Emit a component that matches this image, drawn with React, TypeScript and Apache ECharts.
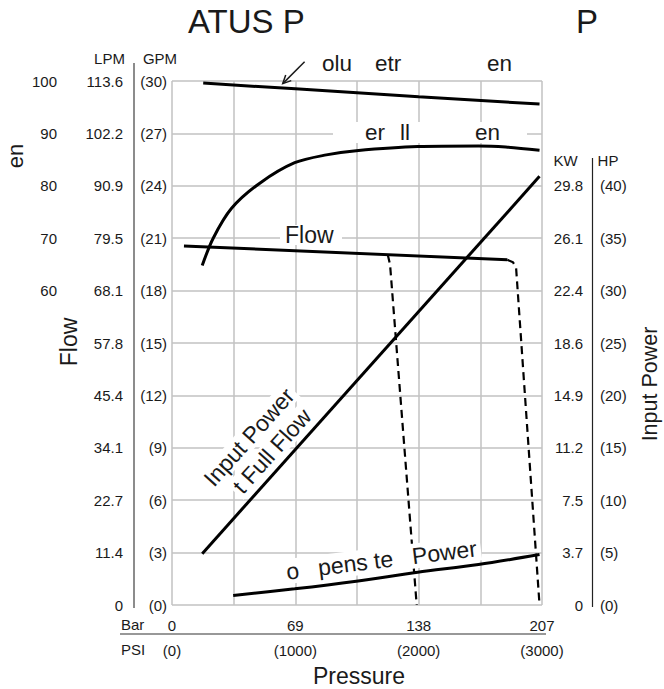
import React, { useEffect, useRef } from 'react';
import * as echarts from 'echarts';

// ---------- tick labels ----------
const barTicks = ['0', '69', '138', '207'];
const psiTicks = ['(0)', '(1000)', '(2000)', '(3000)'];
const gpmTicks = ['(0)', '(3)', '(6)', '(9)', '(12)', '(15)', '(18)', '(21)', '(24)', '(27)', '(30)'];
const lpmTicks = ['0', '11.4', '22.7', '34.1', '45.4', '57.8', '68.1', '79.5', '90.9', '102.2', '113.6'];
const effTicks = ['60', '70', '80', '90', '100'];
const hpTicks = ['(0)', '(5)', '(10)', '(15)', '(20)', '(25)', '(30)', '(35)', '(40)'];
const kwTicks = ['0', '3.7', '7.5', '11.2', '14.9', '18.6', '22.4', '26.1', '29.8'];

// ---------- series (x = PSI) ----------
const volEffPsi = [253, 1000, 2000, 2980];
const volEffPct = [99.6, 98.5, 97.0, 95.6];

const overallEffPsi = [245, 334, 483, 712, 995, 1251, 1494, 1992, 2485, 2706, 2980];
const overallEffPct = [64.8, 70.0, 75.7, 80.5, 84.4, 85.9, 86.7, 87.5, 87.6, 87.4, 86.8];

const flowPsi = [97, 2719];
const flowGpm = [20.56, 19.76];

const comp1Psi = [1749, 1768, 1984];
const comp1Gpm = [20.06, 19.5, 0];

const comp2Psi = [2719, 2765, 2790, 2980];
const comp2Gpm = [19.76, 19.62, 19.3, 0];

const fullPowerPsi = [245, 2980];
const fullPowerHp = [4.9, 40.9];

const compPowerPsi = [496, 995, 1494, 1992, 2485, 2980];
const compPowerHp = [0.91, 1.54, 2.27, 3.13, 3.86, 4.81];

// arrow annotation (tail, head) in PSI / GPM
const arrowPsi = [1075, 898];
const arrowGpm = [31.1, 29.85];

const W = 664;
const H = 689;
const G = { left: 172, top: 81, width: 370, height: 524 };
const FONT = '"Liberation Sans", Arial, Helvetica, sans-serif';
const INK = '#1a1a1a';
const GRID = '#c2c2c2';

const gx = (psi: number) => G.left + (psi / 3000) * G.width;
const gy = (gpm: number) => G.top + G.height - (gpm / 30) * G.height;
const zip = (a: number[], b: number[]) => a.map((v, i) => [v, b[i]]);

function txt(text: string, x: number, y: number, size: number, o: any = {}) {
  const align = o.align || 'left';
  const style: any = {
    text,
    fill: INK,
    font: `${size}px ${FONT}`,
    align,
    verticalAlign: 'middle',
    textAlign: align,
    textVerticalAlign: 'middle',
  };
  if (o.bg) {
    style.backgroundColor = o.bg;
    style.padding = o.pad || [0, 3];
  }
  return { type: 'text', x, y, rotation: o.rot || 0, z: o.z ?? 5, silent: true, style };
}

function buildGraphic() {
  const els: any[] = [];
  // title
  els.push(txt('ATUS P', 188, 21, 33));
  els.push(txt('P', 576, 21, 33));
  // left headers / axis names
  els.push(txt('LPM', 109.5, 58, 15, { align: 'center' }));
  els.push(txt('GPM', 160, 58, 15, { align: 'center' }));
  els.push(txt('en', 15.5, 156, 22, { align: 'center', rot: Math.PI / 2 }));
  els.push(txt('Flow', 68.5, 342, 23, { align: 'center', rot: Math.PI / 2 }));
  // right headers / axis name
  els.push(txt('KW', 565.5, 160, 15, { align: 'center' }));
  els.push(txt('HP', 608, 160, 15, { align: 'center' }));
  els.push(txt('Input Power', 649.5, 384, 21.5, { align: 'center', rot: Math.PI / 2 }));
  // bottom
  els.push(txt('Bar', 121, 624, 15));
  els.push(txt('PSI', 121, 649, 15));
  els.push(txt('Pressure', 359, 676, 23, { align: 'center' }));
  // axis rules
  els.push({ type: 'line', z: 5, silent: true, shape: { x1: 134, y1: 63, x2: 134, y2: 608 }, style: { stroke: '#666', lineWidth: 1.5 } });
  els.push({ type: 'line', z: 5, silent: true, shape: { x1: 592.5, y1: 158, x2: 592.5, y2: 607 }, style: { stroke: '#222', lineWidth: 1.2 } });
  els.push({ type: 'line', z: 5, silent: true, shape: { x1: 120, y1: 634, x2: 546, y2: 634 }, style: { stroke: '#333', lineWidth: 1.2 } });

  // curve labels
  els.push(txt('olu', 322, 63, 22.5));
  els.push(txt('etr', 375, 63, 22.5));
  els.push(txt('en', 487, 63, 22.5));
  // arrow
  const t = [gx(arrowPsi[0]), gy(arrowGpm[0])];
  const h = [gx(arrowPsi[1]), gy(arrowGpm[1])];
  const dx = t[0] - h[0];
  const dy = t[1] - h[1];
  const len = Math.hypot(dx, dy);
  const ux = dx / len;
  const uy = dy / len;
  const wing = (a: number) => [h[0] + 9 * (ux * Math.cos(a) - uy * Math.sin(a)), h[1] + 9 * (ux * Math.sin(a) + uy * Math.cos(a))];
  els.push({ type: 'line', z: 5, silent: true, shape: { x1: t[0], y1: t[1], x2: h[0], y2: h[1] }, style: { stroke: INK, lineWidth: 1.5 } });
  els.push({ type: 'polyline', z: 5, silent: true, shape: { points: [wing(0.45), h, wing(-0.45)] }, style: { stroke: INK, lineWidth: 1.5, fill: null } });

  // overall efficiency label
  els.push({ type: 'rect', z: 4, silent: true, shape: { x: 333, y: 122, width: 194, height: 21 }, style: { fill: '#fff' } });
  els.push(txt('er', 365, 132.5, 22.5));
  els.push(txt('ll', 400, 132.5, 22.5));
  els.push(txt('en', 475, 132.5, 22.5));

  // flow label
  els.push({ type: 'rect', z: 4, silent: true, shape: { x: 280, y: 225, width: 62, height: 20 }, style: { fill: '#fff' } });
  els.push(txt('Flow', 285, 235, 23));

  // input power at full flow labels
  const r48 = (48 * Math.PI) / 180;
  els.push(txt('Input Power', 249, 437, 23, { align: 'center', rot: r48, bg: '#fff', pad: [0, 3] }));
  els.push(txt('t Full Flow', 272, 451, 23, { align: 'center', rot: r48, bg: '#fff', pad: [0, 3] }));

  // compensated power label
  els.push(txt('o   pens te   Power', 381.5, 560, 23, { align: 'center', rot: (7 * Math.PI) / 180, bg: '#fff', pad: [1, 4] }));
  return els;
}

function buildOption(): any {
  const labelBase = { color: INK, fontSize: 15, fontFamily: FONT };
  const solid = { color: '#000', width: 3 };
  const dashed = { color: '#000', width: 2.2, type: [8, 5] };
  const lineSeries = (data: number[][], yAxisIndex: number, lineStyle: any, z: number, smooth: any = false) => ({
    type: 'line',
    data,
    xAxisIndex: 0,
    yAxisIndex,
    showSymbol: false,
    symbol: 'none',
    smooth,
    lineStyle,
    z,
    silent: true,
  });
  return {
    animation: false,
    backgroundColor: '#fff',
    grid: { left: G.left, top: G.top, width: G.width, height: G.height, containLabel: false },
    xAxis: [
      {
        type: 'value', min: 0, max: 3000, interval: 500, position: 'bottom',
        axisLine: { show: false }, axisTick: { show: false },
        splitLine: { show: true, lineStyle: { color: GRID, width: 1.5 } },
        axisLabel: { ...labelBase, margin: 13, showMinLabel: true, showMaxLabel: true,
          formatter: (v: number) => (Math.round(v) % 1000 === 0 ? barTicks[Math.round(v / 1000)] : '') },
      },
      {
        type: 'value', min: 0, max: 3000, interval: 500, position: 'bottom', offset: 25,
        axisLine: { show: false }, axisTick: { show: false }, splitLine: { show: false },
        axisLabel: { ...labelBase, margin: 13, showMinLabel: true, showMaxLabel: true,
          formatter: (v: number) => (Math.round(v) % 1000 === 0 ? psiTicks[Math.round(v / 1000)] : '') },
      },
    ],
    yAxis: [
      {
        type: 'value', min: 0, max: 30, interval: 3, position: 'left',
        axisLine: { show: false }, axisTick: { show: false },
        splitLine: { show: true, lineStyle: { color: GRID, width: 1.5 } },
        axisLabel: { ...labelBase, margin: 5, formatter: (v: number) => gpmTicks[Math.round(v / 3)] },
      },
      {
        type: 'value', min: 0, max: 30, interval: 3, position: 'left', offset: 41,
        axisLine: { show: false }, axisTick: { show: false }, splitLine: { show: false },
        axisLabel: { ...labelBase, margin: 8, formatter: (v: number) => lpmTicks[Math.round(v / 3)] },
      },
      {
        type: 'value', min: 0, max: 100, interval: 10, position: 'left', offset: 107,
        axisLine: { show: false }, axisTick: { show: false }, splitLine: { show: false },
        axisLabel: { ...labelBase, margin: 8, formatter: (v: number) => (v >= 59.9 ? effTicks[Math.round((v - 60) / 10)] : '') },
      },
      {
        type: 'value', min: 0, max: 50, interval: 5, position: 'right',
        axisLine: { show: false }, axisTick: { show: false }, splitLine: { show: false },
        axisLabel: { ...labelBase, margin: 58, align: 'left', formatter: (v: number) => (v <= 40.1 ? hpTicks[Math.round(v / 5)] : '') },
      },
      {
        type: 'value', min: 0, max: 50, interval: 5, position: 'right',
        axisLine: { show: false }, axisTick: { show: false }, splitLine: { show: false },
        axisLabel: { ...labelBase, margin: 41, align: 'right', formatter: (v: number) => (v <= 40.1 ? kwTicks[Math.round(v / 5)] : '') },
      },
    ],
    series: [
      lineSeries(zip(volEffPsi, volEffPct), 2, solid, 10),
      lineSeries(zip(overallEffPsi, overallEffPct), 2, solid, 10, 0.3),
      lineSeries(zip(flowPsi, flowGpm), 0, solid, 10),
      lineSeries(zip(comp1Psi, comp1Gpm), 0, dashed, 1),
      lineSeries(zip(comp2Psi, comp2Gpm), 0, dashed, 1),
      lineSeries(zip(fullPowerPsi, fullPowerHp), 3, solid, 10),
      lineSeries(zip(compPowerPsi, compPowerHp), 3, solid, 10, 0.3),
    ],
    graphic: { elements: buildGraphic() },
  };
}

export default function App() {
  const ref = useRef<HTMLDivElement>(null);
  useEffect(() => {
    if (!ref.current) return;
    const chart = echarts.init(ref.current, null, { renderer: 'svg' });
    chart.setOption(buildOption());
    return () => chart.dispose();
  }, []);
  return <div ref={ref} style={{ position: 'absolute', left: 0, top: 0, width: W, height: H, background: '#fff' }} />;
}
